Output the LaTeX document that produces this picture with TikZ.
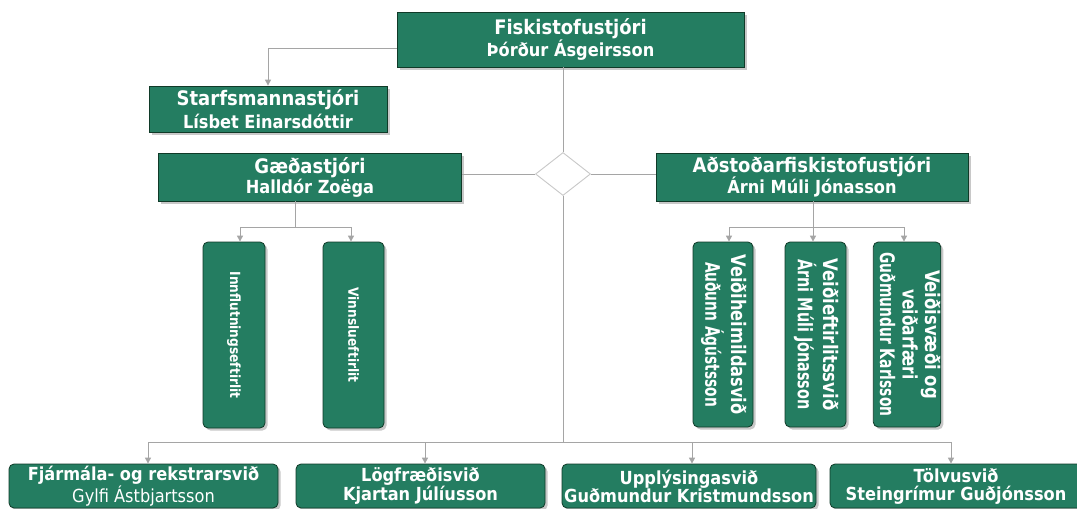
\documentclass[tikz,border=0pt]{standalone}
\usepackage{fontspec}
\usepackage{graphicx}
\usetikzlibrary{arrows.meta,shapes.geometric,shadows}
\newfontfamily\cond{DejaVuSansCondensed}[Extension=.ttf,BoldFont=DejaVuSansCondensed-Bold]
\definecolor{boxgreen}{RGB}{36,125,97}
\definecolor{boxline}{RGB}{16,58,40}
\definecolor{conn}{RGB}{165,165,165}
\definecolor{shade}{RGB}{200,200,200}
\definecolor{dialine}{RGB}{200,200,200}
\newcommand\ttlA{\fontsize{20}{21}\selectfont}
\newcommand\fitw[2]{\resizebox{#1}{\height}{#2}}
\tikzset{
  boxbase/.style={draw=boxline, line width=0.8pt, fill=boxgreen, text=white, align=center, inner sep=0pt,
    drop shadow={shadow xshift=2.5pt, shadow yshift=-2.5pt, fill=shade, opacity=1}},
  hbox/.style={boxbase, font=\cond\bfseries\fontsize{18}{21}\selectfont},
  bbox/.style={boxbase, rounded corners=5pt, font=\cond\bfseries\fontsize{18}{18}\selectfont,
    minimum height=44pt},
  vbox/.style={boxbase, rounded corners=5pt, font=\cond\bfseries\fontsize{20}{24}\selectfont},
  link/.style={draw=conn, line width=1pt},
  arr/.style={link, -{Triangle[width=6pt,length=6pt]}, shorten >=0pt},
  dia/.style={draw=dialine, line width=0.9pt, fill=white, diamond, inner sep=0pt,
    minimum width=55pt, minimum height=43pt},
}
\begin{document}
\begin{tikzpicture}[x=1pt,y=-1pt]
\useasboundingbox[fill=white] (0,0) rectangle (1077,509);

% top level
\node[hbox, minimum width=347pt, minimum height=55pt] (fisk) at (570.5,39.5)
  {{\ttlA Fiskistofustjóri}\\Þórður Ásgeirsson};
\node[hbox, minimum width=238pt, minimum height=46pt] (starf) at (268,109)
  {{\ttlA Starfsmannastjóri}\\[2pt]Lísbet Einarsdóttir};
\node[hbox, minimum width=303pt, minimum height=48pt] (gae) at (310,177)
  {{\ttlA Gæðastjóri}\\[-1pt]Halldór Zoëga};
\node[hbox, minimum width=312pt, minimum height=48pt] (adst) at (812,177)
  {{\ttlA Aðstoðarfiskistofustjóri}\\[-1pt]Árni Múli Jónasson};
\node[dia] (dia) at (563,174) {};

% quality units
\node[vbox, minimum width=62pt, minimum height=186pt] (inn) at (234,335)
  {\rotatebox{-90}{\fontsize{14}{16}\selectfont\fitw{127pt}{Innflutningseftirlit}}};
\node[vbox, minimum width=61pt, minimum height=186pt] (vinn) at (353.5,335)
  {\rotatebox{-90}{\fontsize{14}{16}\selectfont\fitw{95pt}{Vinnslueftirlit}}};

% deputy units
\node[vbox, minimum width=60pt, minimum height=185pt] (veihe) at (723,334.5)
  {\rotatebox{-90}{\begin{tabular}{@{}c@{}}\fitw{160pt}{Veiðiheimildasvið}\\ \fitw{145pt}{Auðunn Ágústsson}\end{tabular}}};
\node[vbox, minimum width=61pt, minimum height=185pt] (veief) at (815.5,334.5)
  {\rotatebox{-90}{\begin{tabular}{@{}c@{}}\fitw{152pt}{Veiðieftirlitssvið}\\ \fitw{150pt}{Árni Múli Jónasson}\end{tabular}}};
\node[vbox, minimum width=60pt, minimum height=185pt] (veisv) at (907,334.5)
  {\rotatebox{-90}{\fontsize{20}{22.5}\selectfont\begin{tabular}{@{}c@{}}\fitw{129pt}{Veiðisvæði og}\\ \fitw{90pt}{veiðarfæri}\\ \fitw{164pt}{Guðmundur Karlsson}\end{tabular}}};

% bottom units
\node[bbox, minimum width=269pt] (fjar) at (143.5,486)
  {Fjármála- og rekstrarsvið\\{\mdseries Gylfi Ástbjartsson}};
\node[bbox, minimum width=249pt] (log) at (420.5,486)
  {Lögfræðisvið\\Kjartan Júlíusson};
\node[bbox, minimum width=254pt] (upp) at (689,486)
  {Upplýsingasvið\\Guðmundur Kristmundsson};
\node[bbox, minimum width=252pt] (tolv) at (956,486)
  {Tölvusvið\\Steingrímur Guðjónsson};

% connectors
\coordinate (bus) at (563,442);
\coordinate (gbus) at (295,227);
\coordinate (abus) at (813,227);

\draw[arr] ([yshift=-8.5pt]fisk.west) -| (starf.north);
\draw[link] (dia.north |- fisk.south) -- (dia.north);
\draw[link] (dia.west) -- (dia.west -| gae.east);
\draw[link] (dia.east) -- (dia.east -| adst.west);
\draw[link] (dia.south) -- (bus);

% quality branch
\draw[link] (gbus |- gae.south) -- (gbus);
\draw[link] ([xshift=6pt]inn.north |- gbus) -- ([xshift=-2.5pt]vinn.north |- gbus);
\draw[arr] ([xshift=6pt]inn.north |- gbus) -- ([xshift=6pt]inn.north);
\draw[arr] ([xshift=-2.5pt]vinn.north |- gbus) -- ([xshift=-2.5pt]vinn.north);

% deputy branch
\draw[link] (abus |- adst.south) -- (abus);
\draw[link] ([xshift=6pt]veihe.north |- abus) -- ([xshift=-3pt]veisv.north |- abus);
\draw[arr] ([xshift=6pt]veihe.north |- abus) -- ([xshift=6pt]veihe.north);
\draw[arr] ([xshift=-2.5pt]veief.north |- abus) -- ([xshift=-2.5pt]veief.north);
\draw[arr] ([xshift=-3pt]veisv.north |- abus) -- ([xshift=-3pt]veisv.north);

% bottom bus
\draw[link] ([xshift=4.5pt]fjar.north |- bus) -- ([xshift=-5pt]tolv.north |- bus);
\draw[arr] ([xshift=4.5pt]fjar.north |- bus) -- ([xshift=4.5pt]fjar.north);
\draw[arr] ([xshift=4.5pt]log.north |- bus) -- ([xshift=4.5pt]log.north);
\draw[arr] ([xshift=3pt]upp.north |- bus) -- ([xshift=3pt]upp.north);
\draw[arr] ([xshift=-5pt]tolv.north |- bus) -- ([xshift=-5pt]tolv.north);
\end{tikzpicture}
\end{document}
